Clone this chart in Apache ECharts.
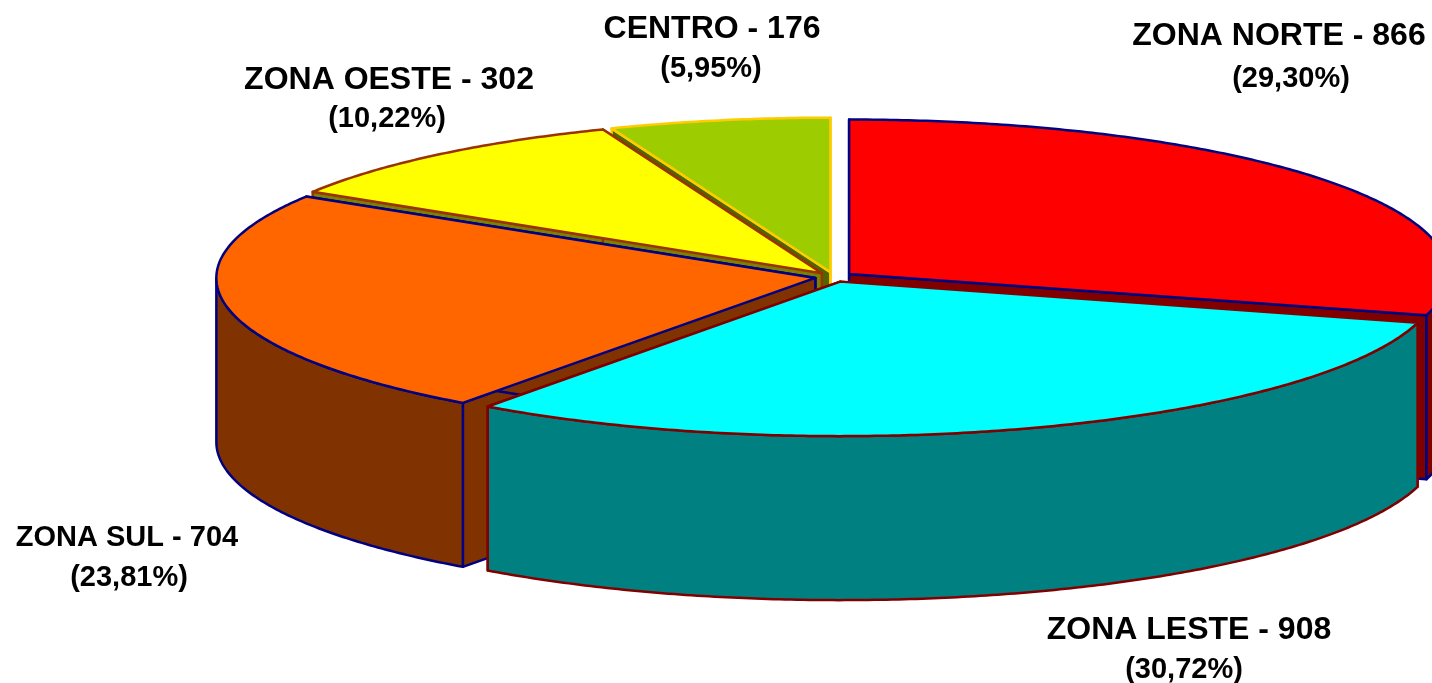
<!DOCTYPE html>
<html>
<head>
<meta charset="utf-8">
<title>Zonas</title>
<script src="https://cdn.jsdelivr.net/npm/echarts@6/dist/echarts.min.js"></script>
<style>
  html, body { margin: 0; padding: 0; background: #fff; }
  #main { width: 1432px; height: 683px; }
</style>
</head>
<body>
<div id="main"></div>
<script>
  // clockwise from 12 o'clock
  const zonas = ['ZONA NORTE', 'ZONA LESTE', 'ZONA SUL', 'ZONA OESTE', 'CENTRO'];
  const valores = [866, 908, 704, 302, 176];
  const percentuais = ['29,30%', '30,72%', '23,81%', '10,22%', '5,95%'];

  const corTopo = ['#ff0000', '#00ffff', '#ff6600', '#ffff00', '#9dcc00'];
  const corLado = ['#800000', '#008080', '#803300', '#808000', '#4f6600'];
  const corBorda = ['#000080', '#800000', '#000080', '#993300', '#ffcc00'];

  // back slices first so the front ones cover them
  const ordem = [4, 3, 0, 2, 1];

  const labelX = [1279, 1189, 127, 389, 712];
  const labelY = [36, 630, 538, 80, 29];
  const labelFonte = [32, 32, 29, 32, 32];
  const pctX = [1291, 1184, 129, 387, 711];
  const pctY = [79, 670, 578, 119, 69];

  const cx = 834, cy = 277, rx = 599, ry = 154.5, altura = 164, explode = 19;
  const total = valores.reduce(function (a, b) { return a + b; }, 0);

  function ponto(c, ang) {
    return [c[0] + rx * Math.sin(ang), c[1] - ry * Math.cos(ang)];
  }
  function desce(p) {
    return [p[0], p[1] + altura];
  }
  function poly(points, fill, stroke) {
    return {
      type: 'polygon',
      shape: { points: points },
      style: { fill: fill, stroke: stroke, lineWidth: 2.5, lineJoin: 'round' }
    };
  }

  function renderItem(params, api) {
    const i = api.value(0);
    let antes = 0;
    for (let k = 0; k < i; k++) antes += valores[k];
    const a0 = antes / total * Math.PI * 2;
    const a1 = (antes + api.value(1)) / total * Math.PI * 2;
    const meio = (a0 + a1) / 2;
    const c = [cx + explode * Math.sin(meio), cy - explode * ry / rx * Math.cos(meio)];

    const arco = [];
    const passos = Math.ceil((a1 - a0) / 0.01);
    for (let k = 0; k <= passos; k++) {
      arco.push(ponto(c, a0 + (a1 - a0) * k / passos));
    }

    // only the part of the rim that faces the viewer
    const frente = [];
    for (let k = 0; k <= passos; k++) {
      const a = a0 + (a1 - a0) * k / passos;
      if (a >= Math.PI / 2 && a <= Math.PI * 1.5) frente.push(arco[k]);
    }

    const filhos = [
      poly([c, arco[0], desce(arco[0]), desce(c)], corLado[i], corBorda[i]),
      poly([c, arco[passos], desce(arco[passos]), desce(c)], corLado[i], corBorda[i])
    ];
    if (frente.length > 1) {
      filhos.push(poly(frente.concat(frente.map(desce).reverse()), corLado[i], corBorda[i]));
    }
    filhos.push(poly([c].concat(arco), corTopo[i], corBorda[i]));
    return { type: 'group', children: filhos };
  }

  const textos = [];
  zonas.forEach(function (nome, i) {
    textos.push({
      type: 'text', x: labelX[i], y: labelY[i],
      style: { text: nome + ' - ' + valores[i], font: 'bold ' + labelFonte[i] + 'px "Liberation Sans", Arial, sans-serif', fill: '#000', align: 'center', verticalAlign: 'middle' }
    });
    textos.push({
      type: 'text', x: pctX[i], y: pctY[i],
      style: { text: '(' + percentuais[i] + ')', font: 'bold 29px "Liberation Sans", Arial, sans-serif', fill: '#000', align: 'center', verticalAlign: 'middle' }
    });
  });

  const myChart = echarts.init(document.getElementById('main'));
  myChart.setOption({
    backgroundColor: '#ffffff',
    animation: false,
    graphic: { elements: textos },
    series: [{
      type: 'custom',
      coordinateSystem: 'none',
      renderItem: renderItem,
      silent: true,
      clip: false,
      data: ordem.map(function (i) { return [i, valores[i]]; })
    }]
  });
</script>
</body>
</html>
